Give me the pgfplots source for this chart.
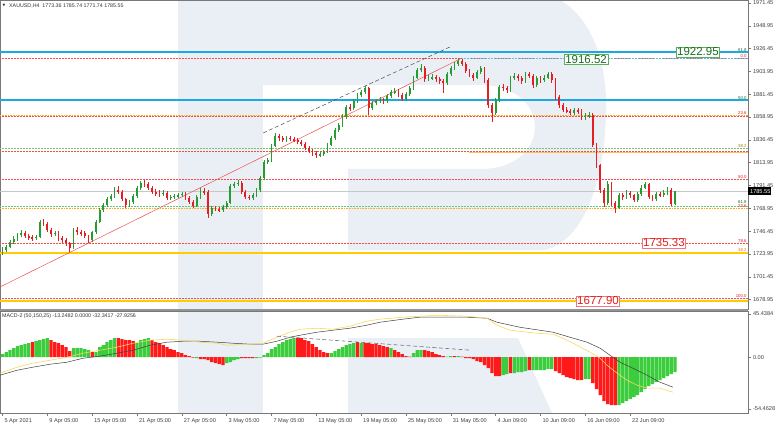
\documentclass[border=0pt]{standalone}
\usepackage{fontspec}
\setmainfont{Liberation Sans}
\newfontfamily\dejavu{DejaVu Sans}
\usepackage{pgfplots}
\usepackage{pgfplotstable}
\pgfplotsset{compat=1.18}
\definecolor{wm}{RGB}{234,238,245}
\definecolor{cblue}{RGB}{30,168,225}
\definecolor{cgold}{RGB}{255,204,0}
\definecolor{cred}{RGB}{238,80,80}
\definecolor{corange}{RGB}{255,170,40}
\definecolor{cgreenl}{RGB}{110,200,110}
\definecolor{candup}{RGB}{40,155,50}
\definecolor{canddn}{RGB}{230,30,35}
\definecolor{hgreen}{RGB}{60,205,60}
\definecolor{hred}{RGB}{255,25,25}
\definecolor{myellow}{RGB}{250,215,90}
\definecolor{axgray}{RGB}{120,120,120}
\definecolor{boxgreen}{RGB}{90,175,90}
\definecolor{txtgreen}{RGB}{25,110,30}
\definecolor{txtred}{RGB}{225,30,30}
\definecolor{boxred}{RGB}{240,120,120}

\pgfplotstableread{
x o h l c
0 1726.0 1730.5 1723.0 1727.8
2 1727.8 1733.0 1726.0 1730.7
4 1730.7 1738.0 1729.5 1735.7
6 1735.7 1741.5 1734.0 1738.6
8 1738.6 1745.0 1737.0 1742.6
10 1742.6 1747.5 1740.5 1744.5
12 1744.5 1746.5 1739.5 1741.6
14 1741.6 1744.0 1738.0 1740.6
16 1740.6 1743.0 1737.0 1739.6
18 1739.6 1742.5 1737.5 1740.8
20 1740.8 1757.5 1739.5 1755.4
22 1755.4 1758.0 1751.5 1753.8
24 1753.8 1755.5 1745.5 1747.5
26 1747.5 1749.5 1741.0 1743.6
28 1743.6 1747.0 1741.5 1745.0
30 1745.0 1746.5 1737.0 1739.6
32 1739.6 1741.5 1735.0 1737.6
34 1737.6 1739.5 1732.0 1734.7
36 1734.7 1736.0 1725.8 1729.8
38 1729.8 1749.5 1728.5 1747.5
40 1747.5 1750.5 1743.0 1745.5
42 1745.5 1748.0 1742.0 1744.5
44 1744.5 1746.5 1739.5 1741.6
46 1741.6 1743.0 1734.5 1737.6
48 1737.6 1747.0 1736.0 1745.5
50 1745.5 1757.0 1744.0 1755.4
52 1755.4 1769.5 1754.0 1767.2
54 1767.2 1774.5 1765.0 1772.2
56 1772.2 1780.5 1770.5 1778.1
58 1778.1 1783.5 1776.0 1781.1
60 1781.1 1789.5 1779.5 1787.0
62 1787.0 1790.5 1783.0 1785.5
64 1785.5 1787.0 1776.0 1778.1
66 1778.1 1779.5 1769.5 1772.2
68 1772.2 1777.5 1770.5 1775.1
70 1775.1 1783.0 1773.5 1781.1
72 1781.1 1791.0 1779.5 1789.0
74 1789.0 1796.0 1787.0 1793.9
76 1793.9 1796.5 1790.0 1792.5
78 1792.5 1794.5 1786.5 1789.0
80 1789.0 1791.0 1783.0 1785.0
82 1785.0 1787.5 1781.5 1784.0
84 1784.0 1786.5 1780.0 1783.0
86 1783.0 1787.0 1781.0 1784.5
88 1784.5 1786.0 1777.0 1779.1
90 1779.1 1782.5 1777.0 1780.1
92 1780.1 1783.5 1778.0 1781.1
94 1781.1 1784.5 1779.5 1782.0
96 1782.0 1785.5 1780.0 1783.5
98 1783.5 1785.0 1777.0 1779.1
100 1779.1 1781.0 1773.0 1775.1
102 1775.1 1777.0 1769.0 1771.2
104 1771.2 1782.0 1770.0 1780.1
106 1780.1 1788.5 1778.5 1786.0
108 1786.0 1789.0 1782.5 1785.0
110 1785.0 1786.5 1759.3 1763.3
112 1763.3 1771.5 1761.5 1769.2
114 1769.2 1771.5 1766.0 1768.2
116 1768.2 1770.0 1765.0 1767.2
118 1767.2 1772.5 1765.5 1770.2
120 1770.2 1776.0 1768.5 1774.1
122 1774.1 1793.0 1773.0 1790.9
124 1790.9 1795.0 1789.0 1792.9
126 1792.9 1797.0 1790.5 1793.9
128 1793.9 1795.5 1783.0 1785.0
130 1785.0 1787.0 1778.0 1780.1
132 1780.1 1782.5 1777.0 1779.1
134 1779.1 1784.0 1777.5 1782.0
136 1782.0 1789.0 1780.5 1787.0
138 1787.0 1800.5 1785.5 1798.8
140 1798.8 1816.5 1797.0 1814.6
142 1814.6 1819.0 1812.5 1816.6
144 1816.6 1832.5 1815.0 1830.4
146 1830.4 1843.0 1829.0 1840.2
148 1840.2 1842.5 1835.5 1838.3
150 1838.3 1840.5 1834.0 1836.3
152 1836.3 1840.5 1834.5 1838.3
154 1838.3 1840.5 1835.0 1837.3
156 1837.3 1839.5 1834.0 1836.3
158 1836.3 1838.5 1832.0 1834.3
160 1834.3 1836.5 1830.0 1832.4
162 1832.4 1834.0 1826.0 1828.4
164 1828.4 1830.5 1823.0 1825.4
166 1825.4 1827.5 1821.0 1823.5
168 1823.5 1825.5 1819.0 1821.5
170 1821.5 1824.5 1819.5 1822.5
172 1822.5 1826.5 1820.5 1824.5
174 1824.5 1833.5 1823.0 1831.4
176 1831.4 1840.5 1830.0 1838.3
178 1838.3 1848.5 1836.5 1846.2
180 1846.2 1853.5 1844.5 1851.1
182 1851.1 1861.5 1849.5 1859.0
184 1859.0 1871.0 1857.5 1868.8
186 1868.8 1872.0 1865.0 1867.8
188 1867.8 1877.0 1866.0 1874.8
190 1874.8 1883.0 1873.0 1880.7
192 1880.7 1886.0 1879.0 1883.6
194 1883.6 1889.5 1882.0 1887.6
196 1887.6 1889.0 1861.0 1867.8
198 1867.8 1875.0 1865.5 1872.8
200 1872.8 1877.0 1870.5 1874.8
202 1874.8 1878.5 1872.5 1875.8
204 1875.8 1878.0 1872.0 1874.5
206 1874.5 1882.0 1873.0 1879.7
208 1879.7 1886.0 1878.0 1883.6
210 1883.6 1887.5 1881.5 1884.6
212 1884.6 1886.5 1878.5 1880.7
214 1880.7 1882.5 1874.5 1876.7
216 1876.7 1884.0 1875.0 1881.7
218 1881.7 1890.0 1880.0 1887.6
220 1887.6 1899.5 1886.0 1897.5
222 1897.5 1907.5 1896.0 1905.4
224 1905.4 1911.0 1903.0 1907.3
226 1907.3 1909.0 1894.0 1896.5
228 1896.5 1900.5 1894.5 1897.5
230 1897.5 1901.5 1895.5 1898.4
232 1898.4 1900.5 1894.0 1896.5
234 1896.5 1898.5 1891.5 1894.5
236 1894.5 1896.5 1883.0 1892.5
238 1892.5 1903.5 1891.0 1901.4
240 1901.4 1909.5 1899.5 1907.3
242 1907.3 1913.5 1905.5 1911.3
244 1911.3 1917.2 1909.5 1914.2
246 1914.2 1916.0 1909.0 1911.3
248 1911.3 1913.0 1902.0 1904.4
250 1904.4 1906.0 1898.0 1900.4
252 1900.4 1902.5 1895.0 1897.5
254 1897.5 1905.5 1896.0 1903.4
256 1903.4 1909.5 1901.5 1907.3
258 1907.3 1908.5 1893.0 1895.5
260 1895.5 1897.0 1868.0 1870.8
262 1870.8 1873.0 1854.0 1862.9
264 1862.9 1878.0 1861.0 1875.8
266 1875.8 1891.0 1874.0 1888.6
268 1888.6 1891.5 1885.0 1887.6
270 1887.6 1890.0 1883.0 1885.6
272 1885.6 1899.5 1884.0 1897.5
274 1897.5 1902.0 1895.5 1899.4
276 1899.4 1901.5 1895.0 1897.5
278 1897.5 1899.5 1892.0 1894.5
280 1894.5 1903.5 1893.0 1901.4
282 1901.4 1903.5 1897.0 1899.4
284 1899.4 1901.0 1888.0 1890.6
286 1890.6 1899.5 1889.0 1897.5
288 1897.5 1899.5 1893.0 1895.5
290 1895.5 1900.0 1893.5 1897.5
292 1897.5 1903.5 1896.0 1901.4
294 1901.4 1903.0 1893.0 1895.5
296 1895.5 1897.0 1876.0 1878.7
298 1878.7 1880.5 1868.0 1870.8
300 1870.8 1872.5 1863.5 1865.9
302 1865.9 1868.5 1862.5 1864.9
304 1864.9 1867.0 1860.5 1862.9
306 1862.9 1868.0 1861.0 1865.9
308 1865.9 1868.0 1862.0 1864.9
310 1864.9 1866.5 1856.5 1859.0
312 1859.0 1862.5 1856.5 1860.0
314 1860.0 1864.0 1858.0 1861.0
316 1861.0 1863.0 1829.0 1831.4
318 1831.4 1833.0 1809.0 1811.6
320 1811.6 1813.0 1784.0 1787.0
322 1787.0 1789.0 1770.0 1774.1
324 1774.1 1795.5 1772.5 1792.9
326 1792.9 1794.5 1771.5 1774.1
328 1774.1 1776.0 1764.5 1769.2
330 1769.2 1784.5 1768.0 1782.0
332 1782.0 1784.0 1777.5 1780.1
334 1780.1 1786.5 1778.5 1784.0
336 1784.0 1786.0 1779.5 1782.0
338 1782.0 1783.5 1775.0 1777.1
340 1777.1 1785.0 1775.5 1783.0
342 1783.0 1791.5 1781.5 1789.0
344 1789.0 1795.0 1787.5 1792.9
346 1792.9 1794.0 1778.0 1780.1
348 1780.1 1782.0 1776.0 1778.1
350 1778.1 1785.0 1776.5 1783.0
352 1783.0 1785.0 1780.0 1782.0
354 1782.0 1786.5 1780.5 1784.0
356 1784.0 1789.5 1782.5 1787.0
358 1787.0 1788.5 1771.0 1773.4
360 1773.36 1785.74 1771.74 1785.55
}\candles

\newcommand{\hl}[2]{\addplot[#1, forget plot] coordinates {(-1.34,#2) (399.1,#2)};}
\newcommand{\fl}[3]{\node[anchor=south east, inner sep=0.3pt, font=\fontsize{4.3}{4.3}\selectfont, text=#1] at (axis cs:398.6,#2) {#3};}
\newcommand{\tickfont}{\fontsize{5.6}{6.6}\selectfont}

\begin{document}
\begin{tikzpicture}
% background watermark
\fill[wm] (178pt,0pt) rectangle (263pt,-413pt);
\fill[wm] (263pt,0pt) -- (560pt,0pt) .. controls (595pt,-20pt) and (608pt,-70pt) .. (606pt,-115pt)
  .. controls (604pt,-180pt) and (585pt,-240pt) .. (545pt,-250pt) -- (348pt,-250pt) -- (348pt,-169pt)
  -- (480pt,-169pt) .. controls (520pt,-169pt) and (535pt,-145pt) .. (535pt,-127pt)
  .. controls (535pt,-105pt) and (515pt,-85pt) .. (480pt,-85pt) -- (263pt,-85pt) -- cycle;
\fill[wm] (348pt,-338pt) -- (518pt,-338pt) -- (552pt,-413pt) -- (348pt,-413pt) -- cycle;

\begin{axis}[
  at={(0pt,0pt)}, anchor=north west,
  width=748pt, height=309pt, scale only axis,
  xmin=-1.34, xmax=399.1, ymin=1669.6, ymax=1974.4,
  clip=false,
  axis line style={axgray, line width=0.5pt},
  xtick=\empty,
  ytick={1678.95,1701.45,1723.95,1746.45,1768.95,1791.45,1813.95,1836.45,1858.95,1881.45,1903.95,1926.45,1948.95,1971.45},
  yticklabels={1678.95,1701.45,1723.95,1746.45,1768.95,1791.45,1813.95,1836.45,1858.95,1881.45,1903.95,1926.45,1948.95,1971.45},
  ytick pos=right, yticklabel pos=right,
  tick align=outside, major tick length=3pt,
  tick style={axgray, line width=0.4pt},
  yticklabel style={font=\tickfont, text=black!75, anchor=west, xshift=-1.5pt},
]
% level lines
\hl{cblue, line width=2.4pt}{1922.95}
\hl{cred, densely dotted, line width=0.5pt}{1916.52}
\addplot[cblue!70, densely dotted, line width=0.6pt, forget plot] coordinates {(246,1916.52) (399.1,1916.52)};
\hl{cblue, line width=2.4pt}{1875.8}
\hl{corange, densely dotted, line width=0.6pt}{1860.6}
\hl{cred, densely dotted, line width=0.5pt}{1859.6}
\hl{cgreenl, densely dotted, line width=0.5pt}{1828.4}
\hl{cred, densely dotted, line width=0.5pt}{1825.4}
\addplot[corange!75, line width=0.35pt, forget plot] coordinates {(250,1824.3) (399.1,1824.3)};
\hl{cred, densely dotted, line width=0.5pt}{1797.8}
\hl{black!22, line width=0.7pt}{1785.55}
\hl{cgreenl, densely dotted, line width=0.5pt}{1771.4}
\hl{corange, densely dotted, line width=0.6pt}{1769.2}
\hl{cred, densely dotted, line width=0.5pt}{1734.9}
\hl{cgold, line width=2.4pt}{1724.8}
\hl{cred, densely dotted, line width=0.5pt}{1680.6}
\hl{cgold, line width=2.0pt}{1677.6}
% trend lines
\addplot[cred, line width=0.5pt, forget plot] coordinates {(-1.34,1691.3) (246,1917.2)};
\addplot[black!70, dashed, dash pattern=on 4pt off 2.5pt, line width=0.5pt, forget plot] coordinates {(139.5,1843.2) (240.6,1929.0)};
% candles: wicks
\addplot[draw=none, mark=none, forget plot,
  restrict expr to domain={\thisrow{c}-\thisrow{o}}{0:1000},
  error bars/.cd, y dir=both, y explicit, error mark=none,
  error bar style={draw=candup, line width=0.6pt}]
  table[x=x, y expr={(\thisrow{h}+\thisrow{l})/2}, y error expr={(\thisrow{h}-\thisrow{l})/2}] {\candles};
\addplot[draw=none, mark=none, forget plot,
  restrict expr to domain={\thisrow{o}-\thisrow{c}}{0.00001:1000},
  error bars/.cd, y dir=both, y explicit, error mark=none,
  error bar style={draw=canddn, line width=0.6pt}]
  table[x=x, y expr={(\thisrow{h}+\thisrow{l})/2}, y error expr={(\thisrow{h}-\thisrow{l})/2}] {\candles};
% candles: bodies
\addplot[draw=none, mark=none, forget plot,
  restrict expr to domain={\thisrow{c}-\thisrow{o}}{0:1000},
  error bars/.cd, y dir=both, y explicit, error mark=none,
  error bar style={draw=candup, line width=1.8pt}]
  table[x=x, y expr={(\thisrow{o}+\thisrow{c})/2}, y error expr={(\thisrow{c}-\thisrow{o})/2}] {\candles};
\addplot[draw=none, mark=none, forget plot,
  restrict expr to domain={\thisrow{o}-\thisrow{c}}{0.00001:1000},
  error bars/.cd, y dir=both, y explicit, error mark=none,
  error bar style={draw=canddn, line width=1.8pt}]
  table[x=x, y expr={(\thisrow{o}+\thisrow{c})/2}, y error expr={(\thisrow{o}-\thisrow{c})/2}] {\candles};
% fib labels
\fl{txtgreen}{1922.95}{61.8}
\fl{txtred}{1916.9}{0.0}
\fl{txtgreen}{1875.8}{50.0}
\fl{txtred}{1860.6}{23.6}
\fl{olive}{1828.4}{38.2}
\fl{txtred}{1797.8}{50.0}
\fl{txtgreen}{1773.5}{61.8}
\fl{txtred}{1769.2}{23.6}
\fl{txtred}{1734.9}{78.6}
\fl{orange!80!red}{1725.6}{38.2}
\fl{txtred}{1680.6}{100.0}
% boxed prices
\node[draw=boxgreen, fill=white, text=txtgreen, font=\fontsize{11.5}{12}\selectfont, inner sep=1pt, line width=0.6pt] at (axis cs:372.3,1923.1) {1922.95};
\node[draw=boxgreen, fill=white, text=txtgreen, font=\fontsize{11.5}{12}\selectfont, inner sep=1pt, line width=0.6pt] at (axis cs:312.4,1916.0) {1916.52};
\node[draw=boxred, fill=white, text=txtred, font=\fontsize{11.5}{12}\selectfont, inner sep=1pt, line width=0.6pt] at (axis cs:354.1,1734.7) {1735.33};
\node[draw=boxred, fill=white, text=txtred, font=\fontsize{11.5}{12}\selectfont, inner sep=1pt, line width=0.6pt] at (axis cs:318.8,1677.5) {1677.90};
% current price
\node[fill=black, text=white, anchor=west, font=\tickfont, inner sep=1pt, minimum height=8pt] at (axis cs:399.1,1785.55) {\,1785.55};
\end{axis}

\begin{axis}[
  at={(0pt,-311pt)}, anchor=north west,
  width=748pt, height=102pt, scale only axis,
  xmin=-1.34, xmax=399.1, ymin=-58.7, ymax=48.6,
  clip=false,
  axis line style={axgray, line width=0.5pt},
  xtick={0,24,48,72,96,120,144,168,192,216,240,264,288,312,336},
  xticklabels={5 Apr 2021,9 Apr 05:00,15 Apr 05:00,21 Apr 05:00,27 Apr 05:00,3 May 05:00,7 May 05:00,13 May 05:00,19 May 05:00,25 May 05:00,31 May 05:00,4 Jun 09:00,10 Jun 09:00,16 Jun 09:00,22 Jun 09:00},
  xtick pos=bottom,
  ytick={-54.4628,0,45.4384},
  yticklabels={-54.4628,0.00,45.4384},
  ytick pos=right, yticklabel pos=right,
  tick align=outside, major tick length=3pt,
  tick style={axgray, line width=0.4pt},
  yticklabel style={font=\tickfont, text=black!75, anchor=west, xshift=-1.5pt},
  xticklabel style={font=\tickfont, text=black!75, anchor=north west, xshift=-1.5pt, yshift=1pt},
]
\addplot[ybar, bar width=1.75, bar shift=0pt, fill=hgreen, draw=none, forget plot] coordinates {
(0,3.2) (2,5.3) (4,7.4) (6,9.5) (8,11.6) (10,12.6) (12,13.7) (14,14.7) (18,16.8) (20,17.9) (22,18.9) (24,20.0)
(38,9.5) (40,9.5) (42,9.5) (44,8.4) (46,7.4) (50,5.3) (52,10.5) (54,12.6) (56,15.8) (58,17.9) (60,20.0)
(72,14.7) (74,17.9) (76,18.9) (78,20.0) (104,-1.1) (120,-6.3) (122,-5.3) (124,-3.2) (126,-2.1)
(136,-1.1) (138,-0.5) (140,2.1) (142,4.2) (144,8.4) (146,10.5) (148,13.7) (150,15.8) (152,17.9) (154,18.9) (156,20.0)
(176,4.2) (178,6.3) (180,8.4) (182,10.5) (184,12.6) (186,13.7) (188,14.7) (192,14.7) (208,9.5)
(220,4.2) (222,7.4) (224,7.4) (238,0.5) (240,1.1) (244,1.1)
(268,-18.9) (270,-17.9) (274,-16.8) (276,-15.8) (278,-15.8) (280,-14.7) (284,-13.7) (286,-13.7) (288,-13.7) (290,-13.7) (292,-12.6) (294,-12.6)
(312,-23.1) (314,-23.1)
(330,-50.5) (332,-48.4) (334,-46.3) (336,-44.2) (338,-42.1) (340,-40.0) (342,-36.8) (344,-33.7) (346,-30.5) (348,-28.4) (350,-26.3) (352,-24.2) (354,-22.1) (356,-20.0) (358,-17.9) (360,-15.8)
};
\addplot[ybar, bar width=1.75, bar shift=0pt, fill=hred, draw=none, forget plot] coordinates {
(16,15.8) (26,17.9) (28,15.8) (30,14.7) (32,12.6) (34,10.5) (36,6.3) (48,5.3)
(62,20.0) (64,18.9) (66,17.9) (68,17.9) (70,16.8)
(80,17.9) (82,15.8) (84,14.7) (86,12.6) (88,10.5) (90,8.4) (92,7.4) (94,5.3) (96,4.2) (98,2.1) (100,1.1) (102,-0.5)
(106,-2.1) (108,-2.1) (110,-3.2) (112,-5.3) (114,-6.3) (116,-7.4) (118,-8.4) (128,-1.1) (130,-1.1) (132,-1.1) (134,-1.1)
(158,20.0) (160,20.0) (162,17.9) (164,16.8) (166,13.7) (168,10.5) (170,7.4) (172,5.3) (174,4.2)
(190,15.8) (194,14.7) (196,14.7) (198,13.7) (200,13.7) (202,12.6) (204,11.6) (206,10.5) (210,7.4) (212,5.3) (214,3.2) (216,1.1) (218,0.5)
(226,7.4) (228,6.3) (230,5.3) (232,3.2) (234,2.1) (236,1.1) (242,1.1) (246,0.5)
(248,-1.1) (250,-1.1) (252,-2.1) (254,-4.2) (256,-5.3) (258,-8.4) (260,-11.6) (262,-16.8) (264,-20.0) (266,-20.0) (272,-16.8) (282,-13.7)
(296,-14.7) (298,-16.8) (300,-18.9) (302,-21.0) (304,-22.1) (306,-23.1) (308,-24.2) (310,-24.2)
(316,-27.3) (318,-33.7) (320,-40.0) (322,-46.3) (324,-49.4) (326,-50.5) (328,-50.5)
};
\addplot[black!75, line width=0.5pt, forget plot] coordinates {
(-1.3,-18.9) (7.8,-13.7) (16.3,-10.5) (25.4,-7.4) (34.5,-5.3) (43.1,-1.1) (52.2,1.1) (61.3,4.2) (69.9,7.4) (79.0,12.6) (88.1,15.8) (96.6,16.8) (105.7,16.8) (114.8,15.8) (123.4,14.7) (132.5,13.7) (139.5,13.7) (146.9,16.8) (153.9,21.0) (159.3,23.1) (168.4,26.3) (176.9,28.4) (186.0,30.5) (195.1,33.7) (202.1,36.8) (214.4,40.0) (223.5,42.1) (232.6,42.1) (248.7,42.1) (259.4,41.0) (264.7,36.8) (277.0,31.5) (294.7,26.3) (303.8,21.0) (312.9,15.8) (319.9,9.5) (325.2,2.1) (330.6,-5.3) (337.5,-11.6) (345.0,-18.9) (352.0,-26.3) (358.9,-31.5)
};
\addplot[myellow, line width=0.6pt, forget plot] coordinates {
(-1.3,-16.8) (7.8,-10.5) (16.3,-6.3) (25.4,-3.2) (34.5,0) (43.1,4.2) (52.2,7.4) (61.3,10.5) (69.9,14.7) (79.0,17.9) (88.1,18.9) (96.6,17.9) (105.7,15.8) (114.8,14.7) (120.2,12.6) (132.5,13.7) (139.5,14.7) (146.9,21.0) (153.9,26.3) (159.3,29.4) (168.4,30.5) (176.9,29.4) (186.0,32.6) (195.1,37.9) (202.1,40.0) (214.4,42.1) (223.5,43.1) (232.6,44.2) (248.7,43.1) (259.4,41.0) (264.7,33.7) (271.7,28.4) (286.1,25.2) (294.7,24.2) (300.0,20.0) (307.5,12.6) (314.5,5.3) (319.9,-1.1) (323.6,-8.4) (329.0,-16.8) (334.3,-24.2) (339.7,-29.4) (345.0,-32.6) (352.0,-32.6) (358.9,-36.8)
};
\addplot[black!55, dashed, dash pattern=on 4pt off 2.5pt, line width=0.6pt, forget plot] coordinates {(146.9,22.1) (250.3,7.4)};
\end{axis}

\draw[axgray!80, line width=1.6pt] (0pt,-309.8pt) -- (748pt,-309.8pt);
\node[anchor=west, inner sep=0pt, font={\dejavu\fontsize{3.5}{4}\selectfont}, text=black!80] at (2.5pt,-6pt) {▼};
\node[anchor=west, inner sep=0pt, font=\fontsize{5.3}{6}\selectfont, text=black!80] at (9pt,-6pt) {XAUUSD,H4\ \ 1773.36 1785.74 1771.74 1785.55};
\node[anchor=west, inner sep=0pt, font=\fontsize{5.3}{6}\selectfont, text=black!80] at (2pt,-316pt) {MACD-2 (50,150,25) -13.2482 0.0000 -32.3417 -27.9256};

\pgfresetboundingbox
\path[use as bounding box] (0pt,0pt) rectangle (782pt,-425pt);
\end{tikzpicture}
\end{document}
